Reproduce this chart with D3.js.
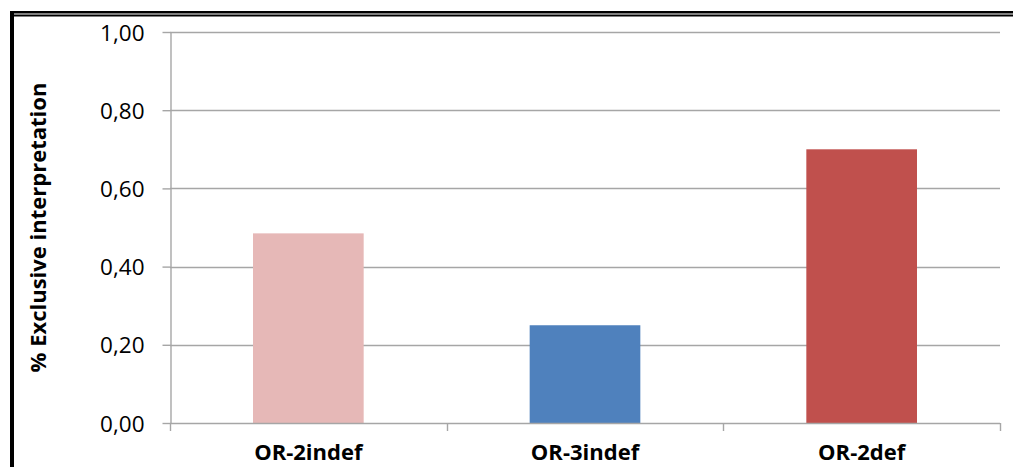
<!DOCTYPE html>
<html>
<head>
<meta charset="utf-8">
<script src="https://cdn.jsdelivr.net/npm/d3@7"></script>
<style>
  html, body { margin: 0; padding: 0; background: #fff; }
  svg { display: block; }
</style>
</head>
<body>
<svg id="chart" width="1013" height="467"></svg>
<script>
// Share of exclusive interpretation per condition
const categories = ["OR-2indef", "OR-3indef", "OR-2def"];
const values = [0.485, 0.25, 0.70];
const barColors = ["#E6B8B7", "#4F81BD", "#C0504D"];
const yTicks = [0, 0.2, 0.4, 0.6, 0.8, 1.0];
const yTitle = "% Exclusive interpretation";

const svg = d3.select("#chart");
const W = 1013, H = 467;
const plot = { left: 170, right: 1000, top: 32, bottom: 423 };
const gridColor = "#A6A6A6";
const font = "'Open Sans', 'Noto Sans', sans-serif";

// Frame: heavy double rule on top, heavy rule on the left
svg.append("rect").attr("x", 10).attr("y", 11).attr("width", W - 10).attr("height", 2.5).attr("fill", "#000");
svg.append("rect").attr("x", 10).attr("y", 14.5).attr("width", W - 10).attr("height", 2).attr("fill", "#000");
svg.append("rect").attr("x", 10).attr("y", 11).attr("width", 4).attr("height", H - 11).attr("fill", "#000");

const x = d3.scaleBand()
  .domain(categories)
  .range([plot.left, plot.right])
  .paddingInner(0.6)
  .paddingOuter(0.3);

const y = d3.scaleLinear()
  .domain([0, 1])
  .range([plot.bottom, plot.top]);

const fmt = v => d3.format(".2f")(v).replace(".", ",");

// Horizontal gridlines
svg.append("g")
  .selectAll("line")
  .data(yTicks.filter(t => t > 0))
  .join("line")
  .attr("x1", plot.left).attr("x2", plot.right)
  .attr("y1", d => Math.round(y(d)) + 0.5).attr("y2", d => Math.round(y(d)) + 0.5)
  .attr("stroke", gridColor).attr("stroke-width", 1.4);

// Y axis
const yAxis = svg.append("g")
  .attr("transform", `translate(${plot.left + 0.5},0)`)
  .call(d3.axisLeft(y).tickValues(yTicks).tickFormat(fmt).tickSizeInner(8).tickSizeOuter(0).tickPadding(18));
yAxis.select(".domain").attr("stroke", gridColor).attr("stroke-width", 1.4);
yAxis.selectAll(".tick line").attr("stroke", gridColor).attr("stroke-width", 1.4);
yAxis.selectAll(".tick text")
  .attr("font-family", font).attr("font-size", 22.5).attr("fill", "#000")
  .attr("dy", "0.36em");

// Bars
svg.append("g")
  .selectAll("rect")
  .data(categories)
  .join("rect")
  .attr("x", d => x(d))
  .attr("width", x.bandwidth())
  .attr("y", (d, i) => y(values[i]))
  .attr("height", (d, i) => y(0) - y(values[i]))
  .attr("fill", (d, i) => barColors[i]);

// X axis baseline with ticks on band boundaries
const boundaries = d3.range(categories.length + 1).map(i => plot.left + i * (plot.right - plot.left) / categories.length);
svg.append("line")
  .attr("x1", plot.left).attr("x2", plot.right)
  .attr("y1", plot.bottom + 0.5).attr("y2", plot.bottom + 0.5)
  .attr("stroke", gridColor).attr("stroke-width", 1.4);
svg.append("g")
  .selectAll("line")
  .data(boundaries)
  .join("line")
  .attr("x1", d => Math.round(d) + 0.5).attr("x2", d => Math.round(d) + 0.5)
  .attr("y1", plot.bottom).attr("y2", plot.bottom + 8)
  .attr("stroke", gridColor).attr("stroke-width", 1.4);

// Category labels
svg.append("g")
  .selectAll("text")
  .data(categories)
  .join("text")
  .attr("x", d => x(d) + x.bandwidth() / 2)
  .attr("y", 460)
  .attr("text-anchor", "middle")
  .attr("font-family", font).attr("font-weight", "bold").attr("font-size", 22)
  .attr("fill", "#000")
  .text(d => d);

// Y axis title
svg.append("text")
  .attr("transform", `translate(46,${(plot.top + plot.bottom) / 2}) rotate(-90)`)
  .attr("text-anchor", "middle")
  .attr("font-family", font).attr("font-weight", "bold").attr("font-size", 22)
  .attr("fill", "#000")
  .text(yTitle);
</script>
</body>
</html>
